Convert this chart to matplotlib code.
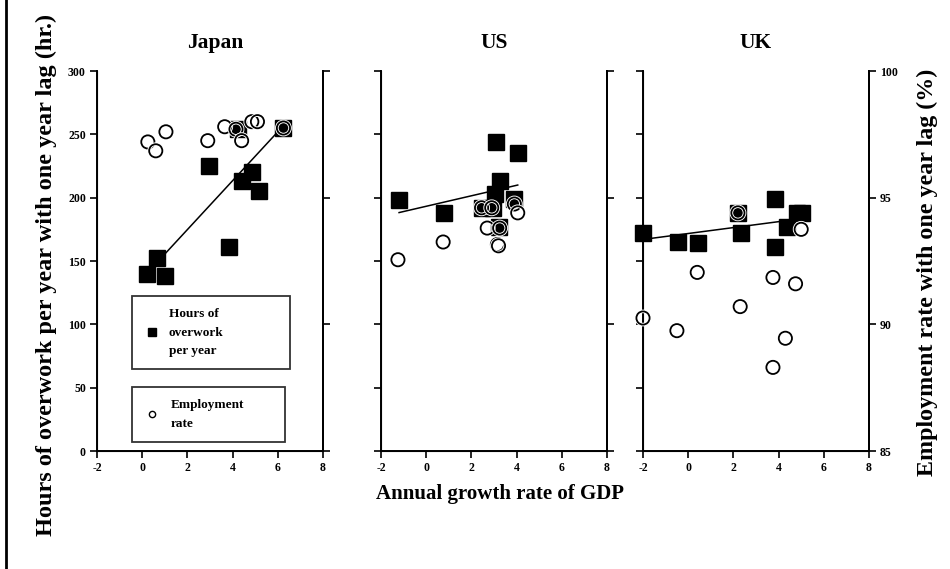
import matplotlib

matplotlib.use("Agg")
import matplotlib.pyplot as plt
import matplotlib.patheffects as pe
import numpy as np
from matplotlib.lines import Line2D

plt.rcParams["font.family"] = ["Liberation Serif", "DejaVu Serif"]
plt.rcParams["font.weight"] = "bold"
plt.rcParams["axes.unicode_minus"] = False

countries = ["Japan", "US", "UK"]

# hours of overwork per year (one year lag) vs GDP growth
jp_hours_x = [0.2, 0.65, 1.0, 2.95, 3.85, 4.25, 4.4, 4.85, 5.15, 6.25]
jp_hours = [140, 152, 138, 225, 161, 254, 213, 220, 205, 255]
us_hours_x = [-1.2, 0.8, 2.45, 2.95, 3.1, 3.25, 3.05, 4.05, 3.9, 3.2]
us_hours = [198, 188, 192, 192, 244, 213, 203, 235, 199, 177]
uk_hours_x = [-2.0, -0.45, 0.45, 2.2, 2.35, 3.85, 3.85, 4.35, 4.8, 5.05]
uk_hours = [172, 165, 164, 188, 172, 199, 161, 177, 188, 188]

# employment rate (%) with one year lag vs GDP growth
jp_emp_x = [0.25, 0.6, 1.05, 2.9, 3.65, 4.15, 4.4, 4.85, 5.1, 6.25]
jp_emp = [97.2, 96.85, 97.6, 97.25, 97.8, 97.7, 97.25, 98.0, 98.0, 97.75]
us_emp_x = [-1.25, 0.75, 2.45, 2.9, 2.7, 3.15, 3.2, 3.25, 3.9, 4.05]
us_emp = [92.55, 93.25, 94.6, 94.6, 93.8, 93.15, 93.1, 93.8, 94.75, 94.4]
uk_emp_x = [-2.0, -0.5, 0.4, 2.2, 2.3, 3.75, 3.75, 4.3, 4.75, 5.0]
uk_emp = [90.25, 89.75, 92.05, 94.4, 90.7, 91.85, 88.3, 89.45, 91.6, 93.75]

# fitted line for hours: slope, intercept
trend_slope = [19.3, 4.14, 2.34]
trend_icpt = [136.2, 193.2, 171.7]

hours_x = [jp_hours_x, us_hours_x, uk_hours_x]
hours_y = [jp_hours, us_hours, uk_hours]
emp_x = [jp_emp_x, us_emp_x, uk_emp_x]
emp_y = [jp_emp, us_emp, uk_emp]

x_ticks = [-2, 0, 2, 4, 6, 8]
hour_ticks = [0, 50, 100, 150, 200, 250, 300]
emp_ticks = [85, 90, 95, 100]

W, H = 950, 569
fig = plt.figure(figsize=(W / 100, H / 100), dpi=100)

lefts = [97, 381, 643]
ax_w, top, bottom = 226, 71, 451
title_x = [215, 494, 756]

tick_kw = dict(direction="out", length=5, width=1.2, labelsize=8.5, pad=3)
halo = [pe.withStroke(linewidth=2.6, foreground="white")]


def boxed_legend(ax, handle, label, anchor, hpad):
    leg = ax.legend([handle], [label], loc="upper left", bbox_to_anchor=anchor,
                    mode="expand", fontsize=9.5, frameon=True, fancybox=False,
                    borderpad=0.9, handletextpad=hpad, handlelength=1.2,
                    borderaxespad=0)
    leg.get_frame().set_edgecolor("black")
    leg.get_frame().set_linewidth(1.3)
    for t in leg.get_texts():
        t.set_linespacing(1.75)
    return leg


for i, name in enumerate(countries):
    ax = fig.add_axes([lefts[i] / W, 1 - bottom / H, ax_w / W, (bottom - top) / H])
    ax.set_xlim(-2, 8)
    ax.set_ylim(0, 300)
    ax.set_xticks(x_ticks)
    ax.set_yticks(hour_ticks)
    ax.spines["top"].set_visible(False)
    for s in ("left", "right", "bottom"):
        ax.spines[s].set_linewidth(1.4)
    ax.tick_params(**tick_kw)
    if i > 0:
        ax.set_yticklabels([])

    xs = np.array(hours_x[i])
    xx = np.array([xs.min(), xs.max()])
    ax.plot(xx, trend_slope[i] * xx + trend_icpt[i], color="black", lw=1.1, zorder=2)
    ax.plot(xs, hours_y[i], "s", color="black", ms=11, zorder=3, clip_on=False)

    tw = ax.twinx()
    tw.set_ylim(85, 100)
    tw.set_yticks(emp_ticks)
    tw.spines["top"].set_visible(False)
    tw.spines["right"].set_linewidth(1.4)
    tw.tick_params(**tick_kw)
    if i < 2:
        tw.set_yticklabels([])
    tw.plot(emp_x[i], emp_y[i], "o", mfc="none", mec="black", mew=1.3, ms=9.5,
            path_effects=halo, zorder=4, clip_on=False)

    fig.text(title_x[i] / W, 1 - 43 / H, name, fontsize=15.5, fontweight="bold",
             ha="center", va="center")

    if i == 0:
        h1 = Line2D([], [], marker="s", color="black", ls="none", ms=6)
        leg1 = boxed_legend(ax, h1, "Hours of\noverwork\nper year",
                            (0.155, 0.408, 0.699, 0), 0.7)
        ax.add_artist(leg1)
        h2 = Line2D([], [], marker="o", mfc="none", mec="black", ls="none", ms=4.5)
        boxed_legend(ax, h2, "Employment\nrate", (0.155, 0.168, 0.677, 0), 0.8)

fig.text(500 / W, 1 - 494 / H, "Annual growth rate of GDP", fontsize=15,
         fontweight="bold", ha="center", va="center")
fig.text(46 / W, 1 - 275 / H, "Hours of overwork per year with one year lag (hr.)",
         fontsize=17.5, fontweight="bold", rotation=90, ha="center", va="center")
fig.text(927 / W, 1 - 272 / H, "Employment rate with one year lag (%)",
         fontsize=17.3, fontweight="bold", rotation=90, ha="center", va="center")

fig.add_artist(Line2D([6 / W, 6 / W], [0, 1], transform=fig.transFigure,
                      color="black", lw=2.0))

fig.savefig("out.png", dpi=100)
